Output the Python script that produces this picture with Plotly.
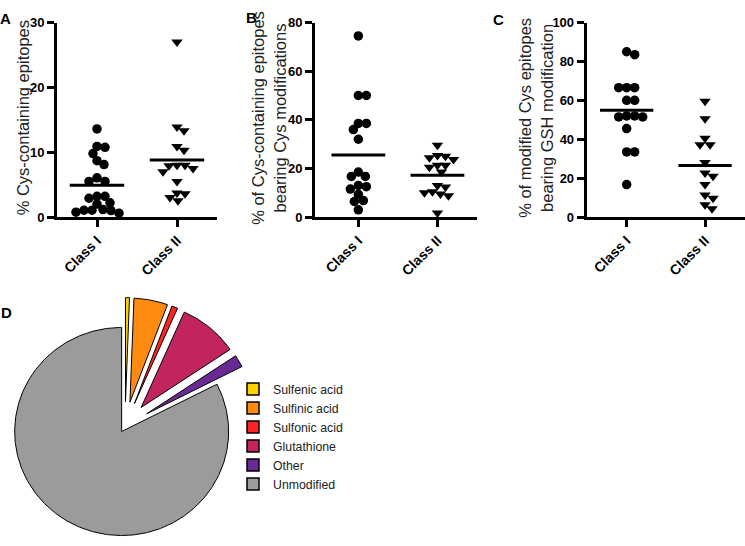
import numpy as np
import plotly.graph_objects as go

FONT = "Liberation Sans"

classes = ["Class I", "Class II"]

# A: % Cys-containing epitopes
a_class1 = [13.6, 10.75, 10.9, 9.8, 8.7, 8.1, 6.05, 5.5, 5.5, 3.2, 3.2, 2.9, 2.0, 2.2,
            1.05, 1.15, 1.0, 1.05, 0.6, 0.75]
a_class2 = [27.0, 13.9, 13.3, 10.9, 10.3, 8.0, 7.9, 8.0, 7.5, 7.0, 5.5, 3.6, 3.7, 3.0, 2.5]

# B: % of Cys-containing epitopes bearing Cys modifications
b_class1 = [74.5, 50, 50, 38.5, 38.5, 36, 32, 18.5, 16.7, 16.7, 13, 12.5, 11.5, 9.3, 6.8, 6.4, 3]
b_class2 = [29.5, 25.3, 24.4, 23.7, 25, 21.3, 21.3, 20.5, 18.5, 13, 12.4, 10, 9.5, 10.4, 8.8, 1.7]

# C: % of modified Cys epitopes bearing GSH modification
c_class1 = [85, 83.5, 66.5, 66.5, 66.5, 60, 60, 52, 51.5, 51.5, 52, 45.5, 33.5, 33.5, 16.7]
c_class2 = [59.5, 50.5, 40.5, 37.2, 37.2, 28, 22.7, 21, 16.7, 11.3, 9.7, 6.3, 4.3]

# D: pie of modifications
mod_labels = ["Sulfenic acid", "Sulfinic acid", "Sulfonic acid", "Glutathione", "Other", "Unmodified"]
mod_pct = [0.6, 5.1, 0.9, 9.0, 1.9, 82.5]
mod_colors = ["#FFD000", "#FF8A10", "#FF2424", "#C2245E", "#6A2A94", "#9B9B9B"]
mod_pull = [0.235, 0.235, 0.235, 0.235, 0.235, 0.06]

panels = [
    dict(c1=a_class1, c2=a_class2, ymax=30, dtick=10, xr=[-0.5, 1.5],
         dom=[57 / 745, 217 / 745], title="% Cys-containing epitopes", tx=22.5),
    dict(c1=b_class1, c2=b_class2, ymax=80, dtick=20, xr=[-0.548, 1.5],
         dom=[315 / 745, 477 / 745], title="% of Cys-containing epitopes<br>bearing Cys modifications", tx=269),
    dict(c1=c_class1, c2=c_class2, ymax=100, dtick=20, xr=[-0.51, 1.51],
         dom=[586.7 / 745, 1.0], title="% of modified Cys epitopes<br>bearing GSH modification", tx=536),
]
ydom = [1 - 216 / 546, 1 - 16 / 546]


def swarm(vals, px_y, px_x, diam=8.0):
    # simple beeswarm: place each point as close to the centre as possible
    vals = np.asarray(vals, float)
    offs = np.zeros(len(vals))
    placed = []
    cands = [0]
    for k in range(1, 60):
        cands += [k, -k]
    for i in np.argsort(-vals):
        y = vals[i] * px_y
        for c in cands:
            if all((c - px) ** 2 + (y - py) ** 2 >= diam ** 2 for px, py in placed):
                break
        placed.append((c, y))
        offs[i] = c / px_x
    return offs


fig = go.Figure()
layout = dict()
annotations = []

for k, p in enumerate(panels):
    n = "" if k == 0 else str(k + 1)
    xa, ya = "x" + n, "y" + n
    px_y = 200 / p["ymax"]
    px_x = (p["dom"][1] - p["dom"][0]) * 745 / (p["xr"][1] - p["xr"][0])
    for ci, (vals, sym, sz) in enumerate([(p["c1"], "circle", 9.5), (p["c2"], "triangle-down", 10)]):
        offs = swarm(vals, px_y, px_x)
        fig.add_trace(go.Scatter(
            x=ci + offs, y=vals, mode="markers", xaxis=xa, yaxis=ya,
            marker=dict(symbol=sym, size=sz, color="black", line=dict(width=0)),
            cliponaxis=False, showlegend=False, hoverinfo="y"))
        m = float(np.mean(vals))
        fig.add_trace(go.Scatter(
            x=[ci - 0.34, ci + 0.34], y=[m, m], mode="lines", xaxis=xa, yaxis=ya,
            line=dict(color="black", width=3), showlegend=False, hoverinfo="skip"))

    common = dict(showline=True, linewidth=3, linecolor="black", ticks="outside",
                  ticklen=7, tickwidth=2.5, tickcolor="black", showgrid=False, zeroline=False)
    layout["xaxis" + n] = dict(common, domain=p["dom"], range=p["xr"], anchor=ya,
                               tickvals=[0, 1], ticktext=classes, tickangle=-45,
                               tickfont=dict(family=FONT, size=14, color="black", weight="bold"))
    layout["yaxis" + n] = dict(common, domain=ydom, range=[0, p["ymax"]], dtick=p["dtick"],
                               anchor=xa,
                               tickfont=dict(family=FONT, size=13, color="black", weight="bold"))
    # y titles as rotated text
    annotations.append(dict(text=p["title"], x=p["tx"] / 745, y=1 - 114 / 546, xref="paper",
                            yref="paper", xanchor="center", yanchor="middle", textangle=-90,
                            showarrow=False, font=dict(family=FONT, size=16.5, color="#222")))

# pie drawn as wedges on its own equal-scale axes
bounds = np.concatenate([[0], np.cumsum(mod_pct)]) / sum(mod_pct) * 360
for lab, col, a0, a1, pl in zip(mod_labels, mod_colors, bounds[:-1], bounds[1:], mod_pull):
    mid = np.radians((a0 + a1) / 2)
    ox, oy = pl * np.sin(mid), pl * np.cos(mid)
    th = np.radians(np.linspace(a0, a1, max(4, int((a1 - a0) * 2))))
    xs = np.concatenate([[ox], ox + np.sin(th), [ox]])
    ys = np.concatenate([[oy], oy + np.cos(th), [oy]])
    fig.add_trace(go.Scatter(x=xs, y=ys, mode="lines", fill="toself", fillcolor=col,
                             line=dict(color="black", width=1), xaxis="x4", yaxis="y4",
                             showlegend=False, hoverinfo="skip"))

for lab, col in zip(mod_labels, mod_colors):
    fig.add_trace(go.Scatter(x=[None], y=[None], mode="markers", name=lab, xaxis="x4", yaxis="y4",
                             marker=dict(symbol="square", size=12, color=col,
                                         line=dict(color="black", width=1.5))))

R_px = 107
x4dom = [0, 0.34]
y4dom = [0, 0.47]
xmin = -125 / R_px
ymin = -115 / R_px
layout["xaxis4"] = dict(domain=x4dom, anchor="y4", visible=False,
                        range=[xmin, xmin + x4dom[1] * 745 / R_px])
layout["yaxis4"] = dict(domain=y4dom, anchor="x4", visible=False,
                        range=[ymin, ymin + y4dom[1] * 546 / R_px])

for lab, x, y in [("A", -2, 1), ("B", 244, 0), ("C", 491, 2), ("D", -1, 303)]:
    annotations.append(dict(text="<b>" + lab + "</b>", x=x / 745, y=1 - y / 546, xref="paper",
                            yref="paper", xanchor="left", yanchor="top", showarrow=False,
                            font=dict(family=FONT, size=15, color="black")))

fig.update_layout(
    width=745, height=546,
    margin=dict(l=0, r=0, t=0, b=0),
    paper_bgcolor="white", plot_bgcolor="white",
    font=dict(family=FONT, color="#222"),
    showlegend=True,
    legend=dict(x=233 / 745, y=1 - 378 / 546, xanchor="left", yanchor="top",
                font=dict(family=FONT, size=12.3, color="#222"), bgcolor="rgba(0,0,0,0)",
                tracegroupgap=0),
    annotations=annotations,
    **layout,
)

# drop the default page margin so the figure sits at the window origin
fig.write_html("out.html", config={"displayModeBar": False},
               post_script="document.body.style.margin='0';")
